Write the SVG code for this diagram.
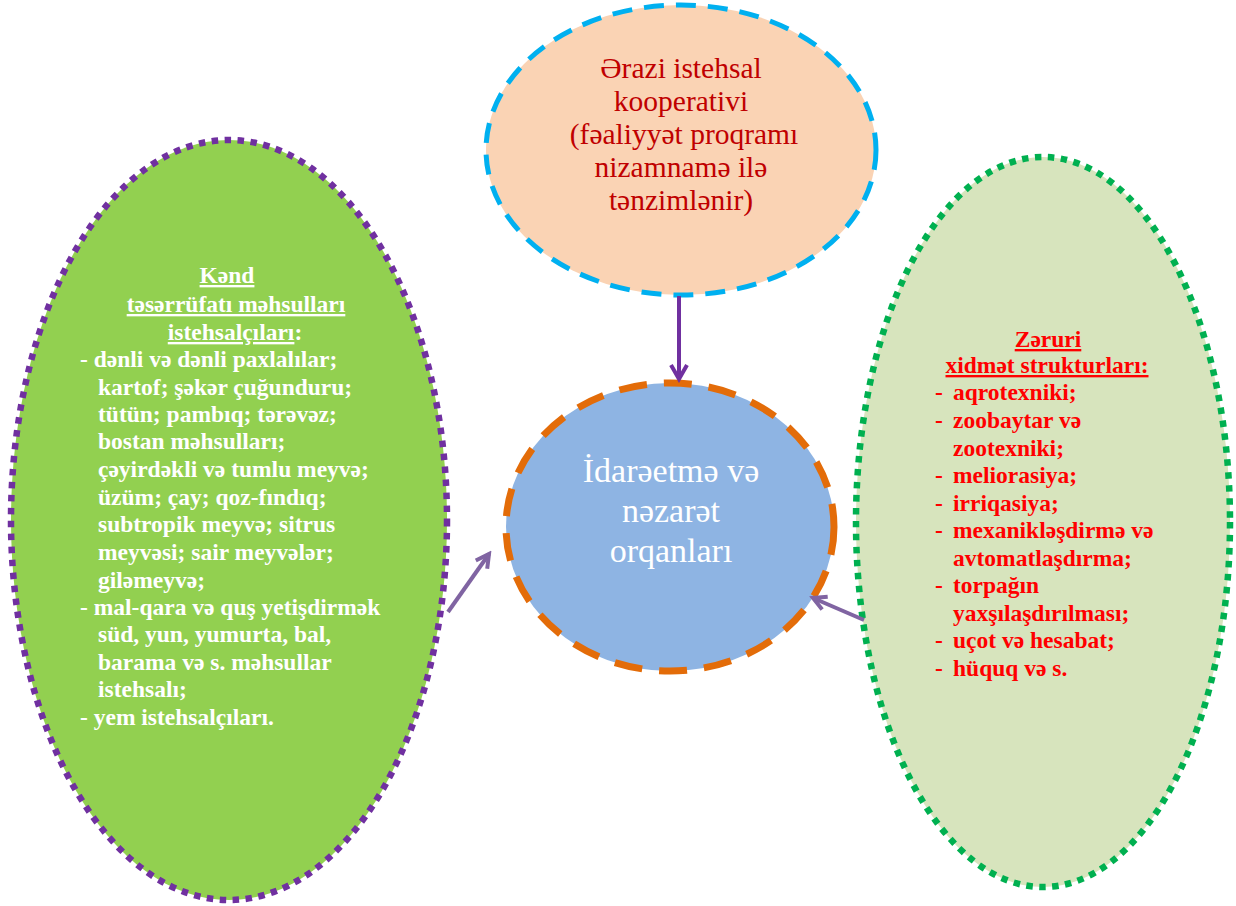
<svg xmlns="http://www.w3.org/2000/svg" width="1236" height="906" viewBox="0 0 1236 906">
<defs>
<style>
text{font-family:'Liberation Serif','Times New Roman',serif}
.top{font-size:29.5px;fill:#C00000;text-anchor:middle}
.mid{font-size:34px;fill:#FFFFFF;text-anchor:middle}
.lt{font-size:23.5px;font-weight:bold;fill:#FFFFFF}
.rt{font-size:23.5px;font-weight:bold;fill:#FF0000}
.u{text-decoration:underline}
.dot{stroke-width:6.5;stroke-dasharray:6.5 6.5}
</style>
<marker id="ahp" markerWidth="22" markerHeight="22" refX="18" refY="11" orient="auto" markerUnits="userSpaceOnUse">
<path d="M4,3 L18,11 L4,19" fill="none" stroke="#7030A0" stroke-width="4"/>
</marker>
<marker id="ahl" markerWidth="22" markerHeight="22" refX="18" refY="11" orient="auto" markerUnits="userSpaceOnUse">
<path d="M5,4 L18,11 L5,18" fill="none" stroke="#8064A2" stroke-width="4"/>
</marker>
<clipPath id="clipL"><rect x="0" y="0" width="382" height="906"/></clipPath>
</defs>
<rect width="1236" height="906" fill="#FFFFFF"/>

<g id="node-left">
<ellipse cx="229" cy="520" rx="218" ry="380" fill="#92D050" stroke="#7030A0" class="dot"/>
<g class="lt" clip-path="url(#clipL)">
<text x="227" y="283" text-anchor="middle" class="u">Kənd</text>
<text x="236" y="312" text-anchor="middle" class="u">təsərrüfatı məhsulları</text>
<text x="235" y="340" text-anchor="middle"><tspan class="u">istehsalçıları</tspan>:</text>
<text x="80" y="367">- dənli və dənli paxlalılar;</text>
<text x="98" y="395">kartof; şəkər çuğunduru;</text>
<text x="98" y="422">tütün; pambıq; tərəvəz;</text>
<text x="98" y="449">bostan məhsulları;</text>
<text x="98" y="477">çəyirdəkli və tumlu meyvə;</text>
<text x="98" y="505">üzüm; çay; qoz-fındıq;</text>
<text x="98" y="532">subtropik meyvə; sitrus</text>
<text x="98" y="560">meyvəsi; sair meyvələr;</text>
<text x="98" y="588">giləmeyvə;</text>
<text x="80" y="615">- mal-qara və quş yetişdirmək</text>
<text x="98" y="642">süd, yun, yumurta, bal,</text>
<text x="98" y="670">barama və s. məhsullar</text>
<text x="98" y="697">istehsalı;</text>
<text x="80" y="725">- yem istehsalçıları.</text>
</g>
</g>

<g id="node-right">
<ellipse cx="1043" cy="522" rx="187" ry="365" fill="#D7E4BD" stroke="#00B050" class="dot"/>
<g class="rt">
<text x="1048" y="347" text-anchor="middle" class="u">Zəruri</text>
<text x="1047" y="373" text-anchor="middle" class="u">xidmət strukturları:</text>
<text x="935" y="400">-</text><text x="953" y="400">aqrotexniki;</text>
<text x="935" y="428">-</text><text x="953" y="428">zoobaytar və</text>
<text x="953" y="456">zootexniki;</text>
<text x="935" y="483">-</text><text x="953" y="483">meliorasiya;</text>
<text x="935" y="511">-</text><text x="953" y="511">irriqasiya;</text>
<text x="935" y="538">-</text><text x="953" y="538">mexanikləşdirmə və</text>
<text x="953" y="566">avtomatlaşdırma;</text>
<text x="935" y="593">-</text><text x="953" y="593">torpağın</text>
<text x="953" y="621">yaxşılaşdırılması;</text>
<text x="935" y="648">-</text><text x="953" y="648">uçot və hesabat;</text>
<text x="935" y="676">-</text><text x="953" y="676">hüquq və s.</text>
</g>
</g>

<g id="node-top">
<ellipse cx="681" cy="150" rx="195" ry="145" fill="#FAD3B4" stroke="#00B0F0" stroke-width="5" stroke-dasharray="20 12"/>
<g class="top">
<text x="681" y="78">Ərazi istehsal</text>
<text x="681" y="111">kooperativi</text>
<text x="684" y="144">(fəaliyyət proqramı</text>
<text x="681" y="177">nizamnamə ilə</text>
<text x="681" y="210">tənzimlənir)</text>
</g>
</g>

<g id="node-center">
<ellipse cx="670" cy="527" rx="164" ry="144" fill="#8EB4E3" stroke="#E36C09" stroke-width="7" stroke-dasharray="28 17"/>
<g class="mid">
<text x="671" y="482">İdarəetmə və</text>
<text x="671" y="522">nəzarət</text>
<text x="671" y="562">orqanları</text>
</g>
</g>

<g id="connectors">
<line x1="679" y1="296" x2="679" y2="379" stroke="#7030A0" stroke-width="4" marker-end="url(#ahp)"/>
<line x1="448" y1="612" x2="489" y2="554" stroke="#8064A2" stroke-width="4" marker-end="url(#ahl)"/>
<line x1="864" y1="620" x2="813" y2="598" stroke="#8064A2" stroke-width="4" marker-end="url(#ahl)"/>
</g>
</svg>
